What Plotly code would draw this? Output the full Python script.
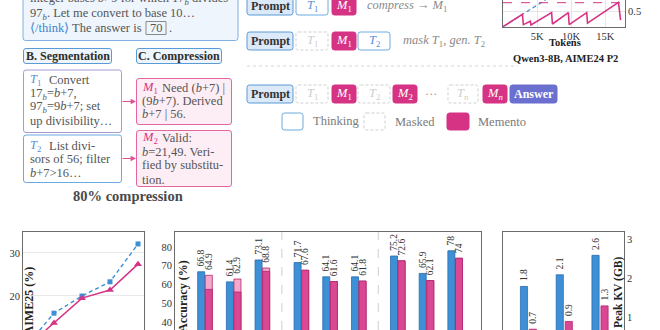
import plotly.graph_objects as go

W, H = 660, 330
SERIF = "Liberation Serif"
BLUE = "#3d8fd6"
BLUE_D = "#2b6cb0"
PINK = "#d63384"
PINK_D = "#b3256b"
PINK_L = "#f3a9cc"
FRAME = "#6b6b6b"
GRAY_TXT = "#555555"

# ---------------- data ----------------
aime_steps = [1, 2, 3, 4, 5]
aime_baseline = [8.3, 16.0, 20.0, 23.3, 32.1]
aime_memento = [8.0, 13.7, 19.5, 21.4, 27.4]

acc_baseline = [66.8, 61.4, 73.1, 71.7, 64.1, 64.1, 75.2, 65.9, 78.0]
acc_memento = [64.9, 62.9, 68.8, 67.6, 61.6, 61.8, 72.6, 62.1, 74.0]
acc_memento_solid = [57.4, 56.0, 67.0, 67.6, 61.6, 61.8, 72.6, 62.1, 74.0]

kv_baseline = [1.8, 2.1, 2.6]
kv_memento = [0.7, 0.9, 1.3]

saw_tokens = [0, 2840, 2990, 4010, 4100, 7130, 7250, 9590, 9710, 12280, 12400, 16940, 17250]
saw_kv = [0, 0.41, 0.07, 0.18, 0.06, 0.47, 0.09, 0.47, 0.07, 0.47, 0.12, 0.81, 0.22]
saw_base_tokens = [0, 17500]
saw_base_kv = [0, 2.51]
saw_budget = 0.8

# layout positions of grouped bars (3 groups of 3)
acc_pos = [g * 3.36 + i for g in range(3) for i in range(3)]
kv_pos = [0, 1, 2]


def lab(v):
    return "\u00a0" + f"{v:g}"


shapes = []
anns = []


def X(x):
    return x / W


def Y(y):
    return 1 - y / H


def box(x0, y0, x1, y1, fill, line, dash=None, width=1, r=2.5):
    p = (f"M {X(x0 + r)},{Y(y0)} L {X(x1 - r)},{Y(y0)} Q {X(x1)},{Y(y0)} {X(x1)},{Y(y0 + r)} "
         f"L {X(x1)},{Y(y1 - r)} Q {X(x1)},{Y(y1)} {X(x1 - r)},{Y(y1)} "
         f"L {X(x0 + r)},{Y(y1)} Q {X(x0)},{Y(y1)} {X(x0)},{Y(y1 - r)} "
         f"L {X(x0)},{Y(y0 + r)} Q {X(x0)},{Y(y0)} {X(x0 + r)},{Y(y0)} Z")
    ln = dict(color=line, width=width)
    if dash:
        ln["dash"] = dash
    shapes.append(dict(type="path", path=p, xref="paper", yref="paper",
                       fillcolor=fill, line=ln, layer="below"))


def txt(x, y, s, size=12.5, color=GRAY_TXT, xanchor="left", yanchor="middle", angle=0):
    anns.append(dict(x=X(x), y=Y(y), xref="paper", yref="paper", text=s, showarrow=False,
                     xanchor=xanchor, yanchor=yanchor, textangle=angle,
                     font=dict(family=SERIF, size=size, color=color)))


# ---------------- left panel text boxes ----------------
box(23, -20, 238, 40.5, "#eef5fc", "#7fb0e0")
txt(28, -1, "integer bases <i>b</i>&gt;9 for which 17<sub><i>b</i></sub> divides")
txt(28, 14, "97<sub><i>b</i></sub>. Let me convert to base 10…")
txt(28, 27.5, "<span style='color:#3b84c9'>⟨/think⟩</span> The answer is")
shapes.append(dict(type="rect", xref="paper", yref="paper", x0=X(146), x1=X(166), y0=Y(21.5), y1=Y(34.5),
                   line=dict(color="#8a8a8a", width=1), fillcolor="rgba(0,0,0,0)"))
txt(156, 28, "70", xanchor="center")
txt(166.5, 28, ".")

box(23.5, 48.5, 111.5, 63.5, "#eef5fc", "#5b9bd5")
txt(67.5, 56, "<b>B. Segmentation</b>", size=12, color="#2d2d2d", xanchor="center")
box(136.5, 48.5, 221.5, 63.5, "#eef5fc", "#5b9bd5")
txt(179, 56, "<b>C. Compression</b>", size=12, color="#2d2d2d", xanchor="center")

TCOL = "#5b8fd6"
box(23.5, 70, 121.5, 132.5, "white", "#a99ad6")
txt(28, 80, "<i>T</i><sub>1</sub>", color=TCOL)
txt(47, 80, "Convert")
txt(28, 94, "17<sub><i>b</i></sub>=<i>b</i>+7,")
txt(28, 107.5, "97<sub><i>b</i></sub>=9<i>b</i>+7; set")
txt(28, 121, "up divisibility…")

box(23.5, 135, 121.5, 182.5, "white", "#6aaae0")
txt(28, 146, "<i>T</i><sub>2</sub>", color=TCOL)
txt(47, 146, "List divi-")
txt(28, 159, "sors of 56; filter")
txt(28, 172.5, "<i>b</i>+7&gt;16…")

box(136.5, 78.5, 231.5, 124.5, "#fdeef5", "#e2669f")
txt(140, 87.5, "<i>M</i><sub>1</sub>", color=PINK)
txt(160, 87.5, "Need (<i>b</i>+7) |")
txt(140, 101, "(9<i>b</i>+7). Derived")
txt(140, 114, "<i>b</i>+7 | 56.")

box(136.5, 130.5, 231.5, 186.5, "#fdeef5", "#e2669f")
txt(140, 137.5, "<i>M</i><sub>2</sub>", color=PINK)
txt(160, 137.5, "Valid:")
txt(140, 151.5, "<i>b</i>=21,49. Veri-")
txt(140, 165.5, "fied by substitu-")
txt(140, 179.5, "tion.")

for yy in (101.5, 158.5):
    anns.append(dict(x=X(136), y=Y(yy), xref="paper", yref="paper", ax=-15, ay=0, text="",
                     showarrow=True, arrowhead=2, arrowsize=0.9, arrowwidth=1.2, arrowcolor="#e0508f",
                     standoff=0))

txt(128, 195.5, "<b>80% compression</b>", size=14.5, color="#4a4a4a", xanchor="center")

# ---------------- middle: memento rows ----------------
MASK_DASH = "3px,2px"


def prompt(y0, y1):
    box(247, y0, 293, y1, "#dbe9f8", "#5b9bd5")
    txt(270, (y0 + y1) / 2, "<b>Prompt</b>", size=12, color="#333", xanchor="center")


def think(x0, x1, y0, y1, s):
    box(x0, y0, x1, y1, "white", "#6aaae0")
    txt((x0 + x1) / 2, (y0 + y1) / 2, s, color=TCOL, xanchor="center")


def masked(x0, x1, y0, y1, s):
    box(x0, y0, x1, y1, "white", "#cfcfcf", dash=MASK_DASH)
    txt((x0 + x1) / 2, (y0 + y1) / 2, s, color="#cdcdcd", xanchor="center")


def memento(x0, x1, y0, y1, s):
    box(x0, y0, x1, y1, PINK, PINK)
    txt((x0 + x1) / 2, (y0 + y1) / 2, s, color="white", xanchor="center")


T1 = "<i>T</i><sub>1</sub>"
T2 = "<i>T</i><sub>2</sub>"
M1 = "<i>M</i><sub>1</sub>"
M2 = "<i>M</i><sub>2</sub>"

r0, r1 = -3, 15
prompt(r0, r1)
think(296, 328, r0, r1, T1)
memento(332, 356, r0, r1, M1)
txt(365, 6, "<i>compress → M</i><sub>1</sub>", color="#8a8a8a")

r0, r1 = 32, 50
prompt(r0, r1)
masked(296, 328, r0, r1, T1)
memento(332, 356, r0, r1, M1)
think(358, 390, r0, r1, T2)
txt(401, 41, "<i>mask T</i><sub>1</sub><i>, gen. T</i><sub>2</sub>", color="#8a8a8a")

shapes.append(dict(type="line", xref="paper", yref="paper", x0=X(247), x1=X(518), y0=Y(66), y1=Y(66),
                   line=dict(color="#d5d5d5", width=1, dash="3px,3px")))

r0, r1 = 85, 103
prompt(r0, r1)
masked(296, 328, r0, r1, T1)
memento(332, 356, r0, r1, M1)
masked(358, 390, r0, r1, T2)
memento(393, 417, r0, r1, M2)
txt(431, 94, "···", color="#9a9a9a", xanchor="center")
masked(448, 478, r0, r1, "<i>T</i><sub><i>n</i></sub>")
memento(483, 507, r0, r1, "<i>M</i><sub><i>n</i></sub>")
box(510, r0, 557, r1, "#6b6fcf", "#6b6fcf")
txt(533.5, 94, "<b>Answer</b>", size=12, color="white", xanchor="center")

box(282, 113, 303, 130, "white", "#6aaae0")
txt(311, 121, "Thinking", color="#7a7a7a")
box(364, 113, 385, 130, "white", "#cfcfcf", dash=MASK_DASH)
txt(393, 121.5, "Masked", color="#7a7a7a")
box(447, 113, 469, 130, PINK, PINK)
txt(476, 121.5, "Memento", color="#7a7a7a")

# ---------------- traces ----------------
fig = go.Figure()

fig.add_trace(go.Scatter(x=aime_steps, y=aime_baseline, mode="lines+markers",
                         line=dict(color=BLUE, width=1.4, dash="4px,3px"),
                         marker=dict(symbol="square", size=5, color=BLUE),
                         xaxis="x", yaxis="y"))
fig.add_trace(go.Scatter(x=aime_steps, y=aime_memento, mode="lines+markers",
                         line=dict(color=PINK, width=1.5),
                         marker=dict(symbol="triangle-up", size=7, color=PINK),
                         xaxis="x", yaxis="y"))

tfont = dict(family=SERIF, size=9.5, color="#333")
bar_common = dict(textposition="outside", textangle=-90, constraintext="none", cliponaxis=False,
                  textfont=tfont)

fig.add_trace(go.Bar(x=acc_pos, y=acc_baseline, width=0.245, offset=-0.255,
                     marker=dict(color=BLUE, line=dict(color=BLUE_D, width=0.8)),
                     text=[lab(v) for v in acc_baseline], xaxis="x2", yaxis="y2", **bar_common))
fig.add_trace(go.Bar(x=acc_pos, y=acc_memento, width=0.245, offset=0.01,
                     marker=dict(color=PINK_L, line=dict(color=PINK_D, width=0.8)),
                     text=[lab(v) for v in acc_memento], xaxis="x2", yaxis="y2", **bar_common))
fig.add_trace(go.Bar(x=acc_pos, y=acc_memento_solid, width=0.245, offset=0.01,
                     marker=dict(color="#da4893", line=dict(color=PINK_D, width=0.8)),
                     xaxis="x2", yaxis="y2", cliponaxis=False))

fig.add_trace(go.Bar(x=kv_pos, y=kv_baseline, width=0.2, offset=-0.226,
                     marker=dict(color=BLUE, line=dict(color=BLUE_D, width=0.8)),
                     text=[lab(v) for v in kv_baseline], xaxis="x3", yaxis="y3", **bar_common))
fig.add_trace(go.Bar(x=kv_pos, y=kv_memento, width=0.2, offset=0.026,
                     marker=dict(color="#da4893", line=dict(color=PINK_D, width=0.8)),
                     text=[lab(v) for v in kv_memento], xaxis="x3", yaxis="y3", **bar_common))

fig.add_trace(go.Scatter(x=saw_base_tokens, y=saw_base_kv, mode="lines",
                         line=dict(color=BLUE, width=1.2, dash="4px,3px"), xaxis="x4", yaxis="y4"))
fig.add_trace(go.Scatter(x=saw_tokens, y=saw_kv, mode="lines",
                         line=dict(color=PINK, width=1.6), xaxis="x4", yaxis="y4"))

# reference lines
shapes.append(dict(type="line", xref="x4 domain", yref="y4", x0=0, x1=1, y0=saw_budget, y1=saw_budget,
                   line=dict(color=PINK, width=1, dash="dash")))
for a, b in ((2, 3), (5, 6)):
    xm = (acc_pos[a] + acc_pos[b]) / 2
    shapes.append(dict(type="line", xref="x2", yref="y2 domain", x0=xm, x1=xm, y0=0, y1=1,
                       line=dict(color="#cfcfcf", width=1, dash="dash")))

# axis titles / captions
txt(28.5, 265, "<b>AIME25 (%)</b>", size=12, color="#222", xanchor="center", yanchor="top", angle=-90)
txt(183, 258, "<b>Accuracy (%)</b>", size=12, color="#222", xanchor="center", yanchor="top", angle=-90)
txt(618, 254, "<b>Peak KV (GB)</b>", size=11.5, color="#222", xanchor="center", yanchor="top", angle=-90)
txt(565, 42.5, "<b>Tokens</b>", size=10.5, color="#222", xanchor="center")
txt(565, 58.5, "<b>Qwen3-8B, AIME24 P2</b>", size=10.5, color="#222", xanchor="center")

tick_font = dict(family=SERIF, size=10.5, color="#333")
frame = dict(showline=True, linecolor=FRAME, linewidth=1, zeroline=False)
BOT = 98 / H

fig.update_layout(
    width=W, height=H, margin=dict(l=0, r=0, t=0, b=0, pad=0),
    paper_bgcolor="white", plot_bgcolor="white", showlegend=False, barmode="overlay",
    xaxis=dict(domain=[X(23), X(144)], range=[0.893, 5.214], anchor="y", side="top",
               showticklabels=False, ticks="", showgrid=False, **frame),
    yaxis=dict(domain=[0, BOT], range=[12.09, 34.88], anchor="x", tickvals=[20, 30], mirror=True,
               showgrid=True, gridcolor="#e9e9e9", ticks="", tickfont=tick_font, **frame),
    xaxis2=dict(domain=[X(175), X(481)], range=[-1.045, 9.62], anchor="y2", side="top",
                showticklabels=False, ticks="", showgrid=False, **frame),
    yaxis2=dict(domain=[0, BOT], range=[35.73, 88], anchor="x2", tickvals=[40, 50, 60, 70, 80],
                mirror=True, showgrid=False, ticks="", tickfont=tick_font, **frame),
    xaxis3=dict(domain=[X(503), X(624)], range=[-0.713, 2.67], anchor="y3", side="top",
                showticklabels=False, ticks="", showgrid=False, **frame),
    yaxis3=dict(domain=[0, BOT], range=[0.68, 3.2], anchor="x3", side="right", tickvals=[1, 2, 3],
                mirror=True, showgrid=False, ticks="", tickfont=tick_font, **frame),
    xaxis4=dict(domain=[X(503), X(625)], range=[0, 17900], anchor="y4",
                tickvals=[5000, 10000, 15000], ticktext=["5K", "10K", "15K"],
                showgrid=True, gridcolor="#e6e6e6", ticks="", tickfont=tick_font, **frame),
    yaxis4=dict(domain=[1 - 26.7 / H, 1], range=[0, 0.89], anchor="x4", side="right", tickvals=[0.5],
                mirror=True, showgrid=True, gridcolor="#e6e6e6", ticks="", tickfont=tick_font, **frame),
    shapes=shapes, annotations=anns,
)

fig.write_html("out.html")
